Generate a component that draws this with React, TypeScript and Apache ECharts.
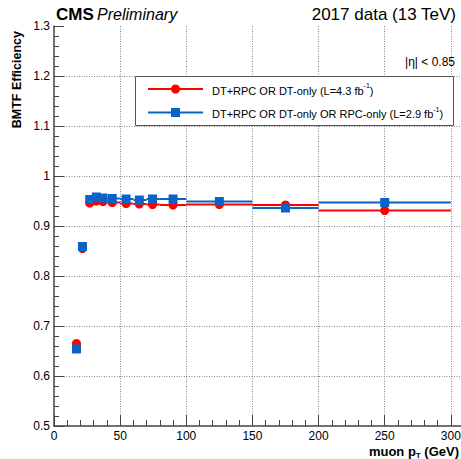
import React, { useEffect, useRef } from "react";
import * as echarts from "echarts";

// Data
const ptValues = [17, 21.5, 27, 32, 37, 44, 54.5, 64.5, 74.5, 90, 125, 175, 250];
const binLow = [15, 20, 25, 30, 35, 40, 50, 60, 70, 80, 100, 150, 200];
const binHigh = [20, 25, 30, 35, 40, 50, 60, 70, 80, 100, 150, 200, 300];
const effRed = [0.665, 0.855, 0.946, 0.95, 0.949, 0.947, 0.945, 0.944, 0.943, 0.942, 0.943, 0.942, 0.931];
const errRed = [0.004, 0.003, 0.002, 0.002, 0.002, 0.002, 0.002, 0.002, 0.002, 0.002, 0.002, 0.003, 0.005];
const effBlue = [0.654, 0.859, 0.953, 0.958, 0.956, 0.955, 0.954, 0.952, 0.954, 0.954, 0.949, 0.936, 0.947];
const errBlue = [0.005, 0.003, 0.002, 0.002, 0.002, 0.002, 0.002, 0.002, 0.002, 0.002, 0.003, 0.004, 0.007];

const yTicks = { min: 0.5, max: 1.3, interval: 0.1 };
const xTicks = { min: 0, max: 350, interval: 50 };

const RED = "#ff0000";
const BLUE = "#0a64c8";
const FONT = "'Liberation Sans', Arial, Helvetica, sans-serif";
const AXIS = "#444";

function errData(eff: number[], err: number[]) {
  return ptValues.map((x, i) => [x, eff[i], binLow[i], binHigh[i], eff[i] - err[i], eff[i] + err[i]]);
}

function errSeries(eff: number[], err: number[], color: string) {
  return {
    type: "custom",
    data: errData(eff, err),
    encode: { x: 0, y: 1 },
    clip: true,
    silent: true,
    renderItem: (_params: any, api: any) => {
      const x = api.value(0);
      const y = api.value(1);
      const p0 = api.coord([api.value(2), y]);
      const p1 = api.coord([api.value(3), y]);
      const q0 = api.coord([x, api.value(4)]);
      const q1 = api.coord([x, api.value(5)]);
      const style = { stroke: color, lineWidth: 2 };
      return {
        type: "group",
        children: [
          { type: "line", shape: { x1: p0[0], y1: p0[1], x2: p1[0], y2: p1[1] }, style },
          { type: "line", shape: { x1: q0[0], y1: q0[1], x2: q1[0], y2: q1[1] }, style },
        ],
      };
    },
  };
}

export default function App() {
  const ref = useRef<HTMLDivElement>(null);
  useEffect(() => {
    if (!ref.current) return;
    const chart = echarts.init(ref.current, null, { renderer: "svg" });
    const axisCommon = {
      type: "value",
      axisLine: { show: true, onZero: false, lineStyle: { color: AXIS, width: 1.5 } },
      axisTick: { show: true, inside: true, lineStyle: { color: AXIS, width: 1 } },
      minorTick: { show: true, splitNumber: 5, lineStyle: { color: AXIS, width: 1 } },
      splitLine: {
        show: true,
        showMinLine: false,
        showMaxLine: false,
        lineStyle: { color: "#888", type: [1, 1.5], width: 1 },
      },
      axisLabel: { color: "#000", fontFamily: FONT, fontSize: 12 },
    };
    chart.setOption({
      animation: false,
      backgroundColor: "#fff",
      grid: { left: 54, right: -56, top: 26, bottom: 33, outerBoundsMode: "none", containLabel: false },
      xAxis: {
        ...axisCommon,
        min: xTicks.min,
        max: xTicks.max,
        interval: xTicks.interval,
        axisTick: { ...axisCommon.axisTick, length: 11 },
        minorTick: { ...axisCommon.minorTick, length: 6 },
        axisLabel: { ...axisCommon.axisLabel, margin: 4, showMaxLabel: false },
      },
      yAxis: {
        ...axisCommon,
        min: yTicks.min,
        max: yTicks.max,
        interval: yTicks.interval,
        axisTick: { ...axisCommon.axisTick, length: 10 },
        minorTick: { ...axisCommon.minorTick, length: 5 },
        axisLabel: {
          ...axisCommon.axisLabel,
          margin: 4,
          formatter: (v: number) => String(Math.round(v * 10) / 10),
        },
      },
      series: [
        errSeries(effRed, errRed, RED),
        {
          type: "scatter",
          data: ptValues.map((x, i) => [x, effRed[i]]),
          symbol: "circle",
          symbolSize: 9,
          itemStyle: { color: RED, opacity: 1 },
          silent: true,
        },
        errSeries(effBlue, errBlue, BLUE),
        {
          type: "scatter",
          data: ptValues.map((x, i) => [x, effBlue[i]]),
          symbol: "rect",
          symbolSize: 9,
          itemStyle: { color: BLUE, opacity: 1 },
          silent: true,
        },
      ],
      graphic: [
        {
          type: "text",
          x: 56,
          y: 14,
          style: {
            text: "{b|CMS} {i|Preliminary}",
            textVerticalAlign: "middle",
            rich: {
              b: { font: `bold 17px ${FONT}`, fill: "#000" },
              i: { font: `italic 16px ${FONT}`, fill: "#000" },
            },
          },
        },
        {
          type: "text",
          x: 456,
          y: 14,
          style: {
            text: "2017 data (13 TeV)",
            font: `17px ${FONT}`,
            fill: "#000",
            textAlign: "right",
            textVerticalAlign: "middle",
          },
        },
        {
          type: "text",
          x: 455,
          y: 62,
          style: {
            text: "|η| < 0.85",
            font: `12px ${FONT}`,
            fill: "#000",
            textAlign: "right",
            textVerticalAlign: "middle",
          },
        },
        {
          type: "text",
          x: 17,
          y: 31,
          rotation: Math.PI / 2,
          style: {
            text: "BMTF Efficiency",
            font: `bold 12.5px ${FONT}`,
            fill: "#000",
            textAlign: "right",
            textVerticalAlign: "middle",
          },
        },
        {
          type: "text",
          x: 459,
          y: 451,
          style: {
            text: "{n|muon p}{s|T}{n| (GeV)}",
            textAlign: "right",
            textVerticalAlign: "middle",
            rich: {
              n: { font: `bold 13px ${FONT}`, fill: "#000", lineHeight: 16, verticalAlign: "middle" },
              s: { font: `bold 8px ${FONT}`, fill: "#000", lineHeight: 16, verticalAlign: "bottom" },
            },
          },
        },
        // legend
        {
          type: "rect",
          shape: { x: 135.5, y: 76.5, width: 318, height: 49 },
          style: { fill: "#fff", stroke: "#555", lineWidth: 1 },
          z: 10,
        },
        {
          type: "line",
          shape: { x1: 148, y1: 89, x2: 203, y2: 89 },
          style: { stroke: RED, lineWidth: 2 },
          z: 11,
        },
        {
          type: "circle",
          shape: { cx: 175.5, cy: 89, r: 4.5 },
          style: { fill: RED },
          z: 12,
        },
        {
          type: "line",
          shape: { x1: 148, y1: 112.5, x2: 203, y2: 112.5 },
          style: { stroke: BLUE, lineWidth: 2 },
          z: 11,
        },
        {
          type: "rect",
          shape: { x: 171, y: 108, width: 9, height: 9 },
          style: { fill: BLUE },
          z: 12,
        },
        {
          type: "text",
          x: 212,
          y: 89,
          z: 12,
          style: {
            text: "{n|DT+RPC OR DT-only (L=4.3 fb}{s|-1}{n|)}",
            textVerticalAlign: "middle",
            rich: {
              n: { font: `11px ${FONT}`, fill: "#000", lineHeight: 14, verticalAlign: "bottom" },
              s: { font: `7px ${FONT}`, fill: "#000", lineHeight: 14, verticalAlign: "top" },
            },
          },
        },
        {
          type: "text",
          x: 212,
          y: 112.5,
          z: 12,
          style: {
            text: "{n|DT+RPC OR DT-only OR RPC-only (L=2.9 fb}{s|-1}{n|)}",
            textVerticalAlign: "middle",
            rich: {
              n: { font: `11px ${FONT}`, fill: "#000", lineHeight: 14, verticalAlign: "bottom" },
              s: { font: `7px ${FONT}`, fill: "#000", lineHeight: 14, verticalAlign: "top" },
            },
          },
        },
      ],
    });
    return () => chart.dispose();
  }, []);
  return (
    <div
      ref={ref}
      style={{ position: "fixed", left: 0, top: 0, width: 461, height: 459, background: "#fff" }}
    />
  );
}
